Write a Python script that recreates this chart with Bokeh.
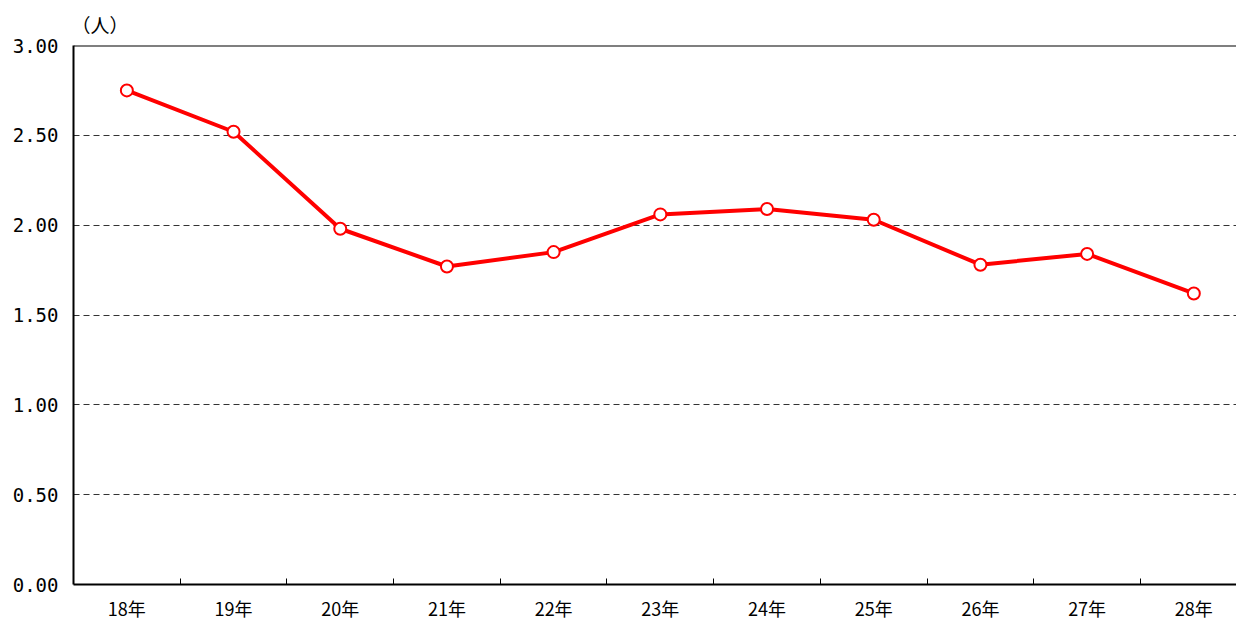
from bokeh.plotting import figure
from bokeh.models import FixedTicker, Span, Range1d
from bokeh.embed import file_html
from bokeh.resources import INLINE

categories = ["18年", "19年", "20年", "21年", "22年", "23年", "24年", "25年", "26年", "27年", "28年"]
values = [2.75, 2.52, 1.98, 1.77, 1.85, 2.06, 2.09, 2.03, 1.78, 1.84, 1.62]
y_ticks = [0.0, 0.5, 1.0, 1.5, 2.0, 2.5, 3.0]
y_labels = ["0.00", "0.50", "1.00", "1.50", "2.00", "2.50", "3.00"]
unit_label = "（人）"

FONT = "Noto Sans CJK JP"
MONO = "DejaVu Sans Mono"

xs = [i + 0.5 for i in range(len(categories))]

p = figure(width=1236, height=623, output_backend="svg", toolbar_location=None,
           x_range=Range1d(0, 10.9), y_range=Range1d(0, 3.0),
           min_border_left=73, min_border_right=0, min_border_top=45, min_border_bottom=39)
p.outline_line_color = None
p.background_fill_color = "white"

# unit label as title
p.title.text = unit_label
p.title.align = "left"
p.title.offset = -2
p.title.standoff = 15
p.title.text_font = FONT
p.title.text_font_size = "19px"
p.title.text_font_style = "normal"
p.title.text_color = "black"

# x axis
p.xaxis.ticker = FixedTicker(ticks=xs, minor_ticks=list(range(1, len(categories))))
p.xaxis.major_label_overrides = {x: c for x, c in zip(xs, categories)}
p.xaxis.major_tick_line_color = None
p.xaxis.major_tick_out = 0
p.xaxis.major_tick_in = 0
p.xaxis.minor_tick_in = 6
p.xaxis.minor_tick_out = 0
p.xaxis.minor_tick_line_color = "black"
p.xaxis.minor_tick_line_width = 1
p.xaxis.axis_line_color = "black"
p.xaxis.axis_line_width = 2
p.xaxis.major_label_text_font = FONT
p.xaxis.major_label_text_font_size = "18px"
p.xaxis.major_label_text_color = "black"
p.xaxis.major_label_standoff = 10

# y axis
p.yaxis.ticker = FixedTicker(ticks=y_ticks)
p.yaxis.major_label_overrides = {t: l for t, l in zip(y_ticks, y_labels)}
p.yaxis.major_tick_line_color = None
p.yaxis.major_tick_out = 0
p.yaxis.major_tick_in = 0
p.yaxis.minor_tick_line_color = None
p.yaxis.axis_line_color = "black"
p.yaxis.axis_line_width = 2
p.yaxis.major_label_text_font = MONO
p.yaxis.major_label_text_font_size = "19px"
p.yaxis.major_label_text_color = "black"
p.yaxis.major_label_standoff = 15

# grid
p.xgrid.grid_line_color = None
p.ygrid.ticker = FixedTicker(ticks=[0.5, 1.0, 1.5, 2.0, 2.5])
p.ygrid.grid_line_color = "#333333"
p.ygrid.grid_line_dash = "6 4"
p.ygrid.grid_line_width = 1

# top border
p.add_layout(Span(location=3.0, dimension="width", line_color="black", line_width=2))

# data
p.line(xs, values, line_color="#FF0000", line_width=4)
p.scatter(xs, values, size=12, marker="circle", fill_color="white",
          line_color="#FF0000", line_width=2)

open("out.html", "w").write(file_html(p, INLINE))
